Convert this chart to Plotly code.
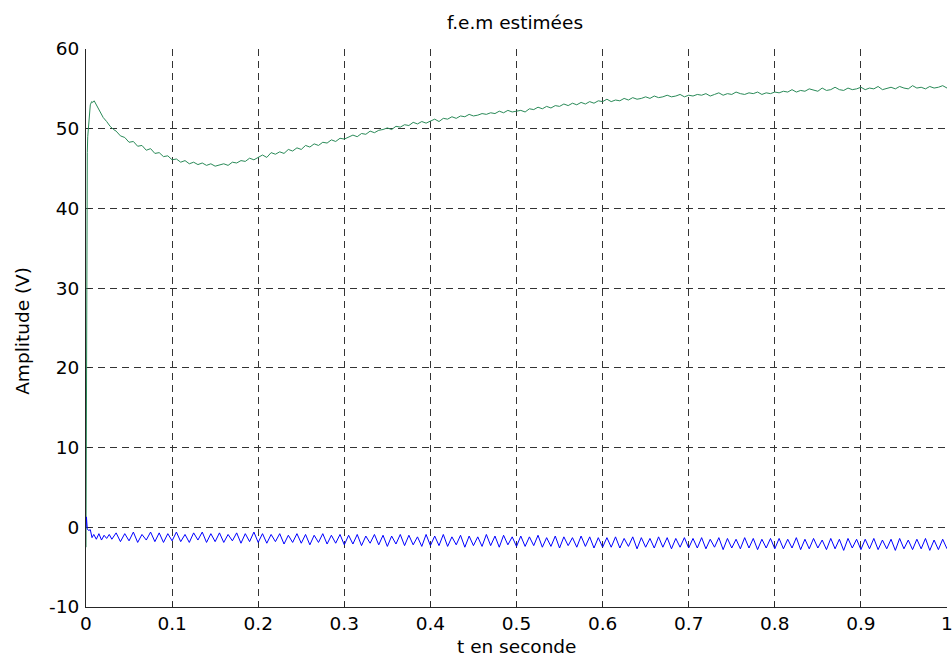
import numpy as np
import plotly.graph_objects as go

# ---- Green curve (estimated EMF, component 1) ----
green_t_start = [0.0, 0.0005, 0.001, 0.0015, 0.002, 0.0027, 0.004, 0.005, 0.0066,
                 0.008, 0.0095, 0.0116, 0.014, 0.017, 0.02, 0.024, 0.028, 0.032]
green_v_start = [-2.5, 20.0, 44.0, 47.0, 49.0, 50.3, 51.5, 53.0, 53.4,
                 53.3, 53.5, 53.1, 52.6, 52.0, 51.4, 50.9, 50.3, 49.9]
green_v_rest = [
    49.7, 49.1, 48.9, 48.3, 48.4, 47.8, 47.9, 47.3, 47.5, 46.9, 47.0, 46.5, 46.6, 46.1, 46.2, 45.8, 46.0,
    45.6, 45.8, 45.5, 45.7, 45.4, 45.6, 45.3, 45.5, 45.6, 45.4, 45.8, 45.7, 46.0, 45.9, 46.3, 46.1, 46.4,
    46.7, 46.4, 47.0, 46.8, 47.1, 46.9, 47.4, 47.2, 47.6, 47.4, 47.9, 47.7, 48.1, 47.9, 48.3, 48.2, 48.6, 48.4, 48.8, 48.7,
    48.9, 49.2, 49.0, 49.4, 49.3, 49.7, 49.5, 49.8, 49.9, 50.1, 49.9, 50.3, 50.2, 50.5, 50.4, 50.8, 50.6, 50.9, 50.7, 51.0,
    51.2, 50.9, 51.3, 51.2, 51.5, 51.3, 51.6, 51.5, 51.8, 51.6, 51.7, 51.9, 51.8, 52.0, 51.9, 52.2, 52.0, 52.3, 52.1, 52.2,
    52.3, 52.1, 52.5, 52.4, 52.7, 52.5, 52.8, 52.6, 52.9, 52.8, 53.1, 52.9, 53.2, 53.0, 53.3, 53.1, 53.4, 53.2, 53.5, 53.4,
    53.7, 53.4, 53.6, 53.5, 53.8, 53.6, 53.9, 53.7, 53.8, 54.0, 53.8, 54.1, 53.9, 54.0, 54.2, 54.0, 54.1, 54.3, 54.0, 54.2,
    54.1, 54.3, 54.2, 54.4, 54.1, 54.3, 54.5, 54.2, 54.4, 54.3, 54.6, 54.4, 54.3, 54.5, 54.4, 54.6, 54.3, 54.5, 54.4, 54.6,
    54.5, 54.7, 54.6, 54.9, 54.6, 54.8, 54.7, 55.0, 54.8, 54.7, 55.1, 54.8, 54.9, 55.2, 54.9, 54.8, 55.1, 54.9, 55.0, 55.2,
    54.9, 55.1, 55.0, 55.3, 54.9, 55.1, 55.2, 55.0, 55.3, 55.1, 55.0, 55.4, 55.1, 55.2, 55.0, 55.3, 55.1, 55.2, 55.4, 55.1,
]

# ---- Blue curve (estimated EMF, component 2) ----
blue_t_start = [0.0, 0.0005, 0.0015, 0.003, 0.005, 0.007, 0.009, 0.012, 0.015,
                0.018, 0.021, 0.024, 0.027, 0.030]
blue_v_start = [0.0, 1.3, -0.2, -0.4, -0.3, -1.3, -0.9, -1.5, -0.8,
                -1.6, -1.0, -1.4, -0.9, -1.5]
blue_v_rest = [
    -0.7, -1.8, -0.8, -1.7, -0.6, -1.9, -0.9, -1.6, -0.6, -1.8, -0.7, -1.9, -0.8, -1.7, -0.6, -1.8, -0.9,
    -1.9, -0.7, -1.6, -0.6, -1.9, -0.8, -1.8, -0.7, -1.9, -0.9, -1.7, -0.7, -2.0, -0.8, -1.8, -0.6, -1.9,
    -0.8, -2.0, -0.9, -1.8, -0.8, -2.1, -1.0, -1.9, -0.8, -2.0, -0.9, -2.2, -1.0, -1.9, -0.8, -2.1, -1.0, -2.0, -0.9, -2.2,
    -1.0, -2.1, -0.9, -2.3, -1.1, -2.0, -0.9, -2.2, -1.0, -2.4, -1.1, -2.1, -0.9, -2.3, -1.0, -2.2, -1.2, -2.4, -0.9, -2.3,
    -1.1, -2.3, -0.9, -2.4, -1.2, -2.2, -1.0, -2.5, -1.1, -2.3, -1.2, -2.4, -0.9, -2.3, -1.1, -2.5, -1.0, -2.2, -1.2, -2.4,
    -1.1, -2.4, -1.2, -2.3, -1.0, -2.5, -1.3, -2.4, -1.1, -2.6, -1.2, -2.3, -1.3, -2.5, -1.1, -2.4, -1.2, -2.6, -1.3, -2.5,
    -1.3, -2.5, -1.2, -2.6, -1.4, -2.4, -1.2, -2.7, -1.3, -2.5, -1.4, -2.6, -1.2, -2.5, -1.3, -2.7, -1.4, -2.5, -1.3, -2.6,
    -1.4, -2.6, -1.3, -2.7, -1.5, -2.5, -1.3, -2.8, -1.4, -2.6, -1.5, -2.7, -1.3, -2.6, -1.4, -2.8, -1.5, -2.6, -1.4, -2.7,
    -1.4, -2.7, -1.5, -2.6, -1.3, -2.8, -1.5, -2.7, -1.4, -2.6, -1.6, -2.8, -1.4, -2.7, -1.5, -2.9, -1.4, -2.6, -1.5, -2.8,
    -1.5, -2.7, -1.4, -2.8, -1.6, -2.7, -1.5, -2.9, -1.4, -2.7, -1.6, -2.8, -1.5, -2.7, -1.4, -2.9, -1.6, -2.8, -1.5, -2.7,
]

x_ticks = [0, 0.1, 0.2, 0.3, 0.4, 0.5, 0.6, 0.7, 0.8, 0.9, 1]
x_tick_labels = ["0", "0.1", "0.2", "0.3", "0.4", "0.5", "0.6", "0.7", "0.8", "0.9", "1"]
y_ticks = [-10, 0, 10, 20, 30, 40, 50, 60]
y_tick_labels = ["-10", "0", "10", "20", "30", "40", "50", "60"]

title_text = "f.e.m estimées"
x_title = "t en seconde"
y_title = "Amplitude (V)"

# uniform sampling clock for the steady part
green_t = green_t_start + list(np.linspace(0.035, 1.0, len(green_v_rest)))
green_v = green_v_start + green_v_rest
blue_t = blue_t_start + list(np.linspace(0.035, 1.0, len(blue_v_rest)))
blue_v = blue_v_start + blue_v_rest

FONT = "DejaVu Sans, Liberation Sans, Arial, sans-serif"
FS = 18.5
W, H = 952, 666
ML, MR, MT, MB = 86, 5, 49, 59

fig = go.Figure()
fig.add_trace(go.Scatter(x=green_t, y=green_v, mode="lines",
                         line=dict(color="#2a8a58", width=1), showlegend=False))
fig.add_trace(go.Scatter(x=blue_t, y=blue_v, mode="lines",
                         line=dict(color="#0000ff", width=1), showlegend=False))

axis_common = dict(
    showgrid=True, gridcolor="#333333", griddash="7px,5px", gridwidth=1,
    zeroline=False, showline=True, linecolor="#262626", linewidth=1,
    ticks="inside", ticklen=5, tickcolor="#262626",
    tickfont=dict(family=FONT, size=FS, color="#000000"),
    automargin=False, layer="below traces", mirror=False,
    ticklabeloverflow="allow",
)

fig.update_layout(
    width=W, height=H,
    template="none",
    paper_bgcolor="white", plot_bgcolor="white",
    margin=dict(l=ML, r=MR, t=MT, b=MB),
    title=dict(text=title_text, x=515 / W, xref="container", xanchor="center",
               y=1 - 23 / H, yref="container", yanchor="middle",
               font=dict(family=FONT, size=FS, color="#000000")),
    xaxis=dict(range=[0, 1], tickvals=x_ticks, ticktext=x_tick_labels, **axis_common),
    yaxis=dict(range=[-10, 60], tickvals=y_ticks, ticktext=y_tick_labels,
               ticklabelstandoff=2, **axis_common),
    showlegend=False,
    annotations=[
        dict(text=x_title, xref="paper", yref="paper", x=0.5, y=-(646 - (H - MB)) / (H - MT - MB),
             xanchor="center", yanchor="middle", showarrow=False,
             font=dict(family=FONT, size=FS, color="#000000")),
        dict(text=y_title, xref="paper", yref="paper", x=-(ML - 23) / (W - ML - MR), y=0.495,
             xanchor="center", yanchor="middle", showarrow=False, textangle=-90,
             font=dict(family=FONT, size=FS, color="#000000")),
    ],
)

fig.write_html("out.html", config={"displayModeBar": False},
               post_script="document.body.style.margin='0';document.body.style.overflow='hidden';")
